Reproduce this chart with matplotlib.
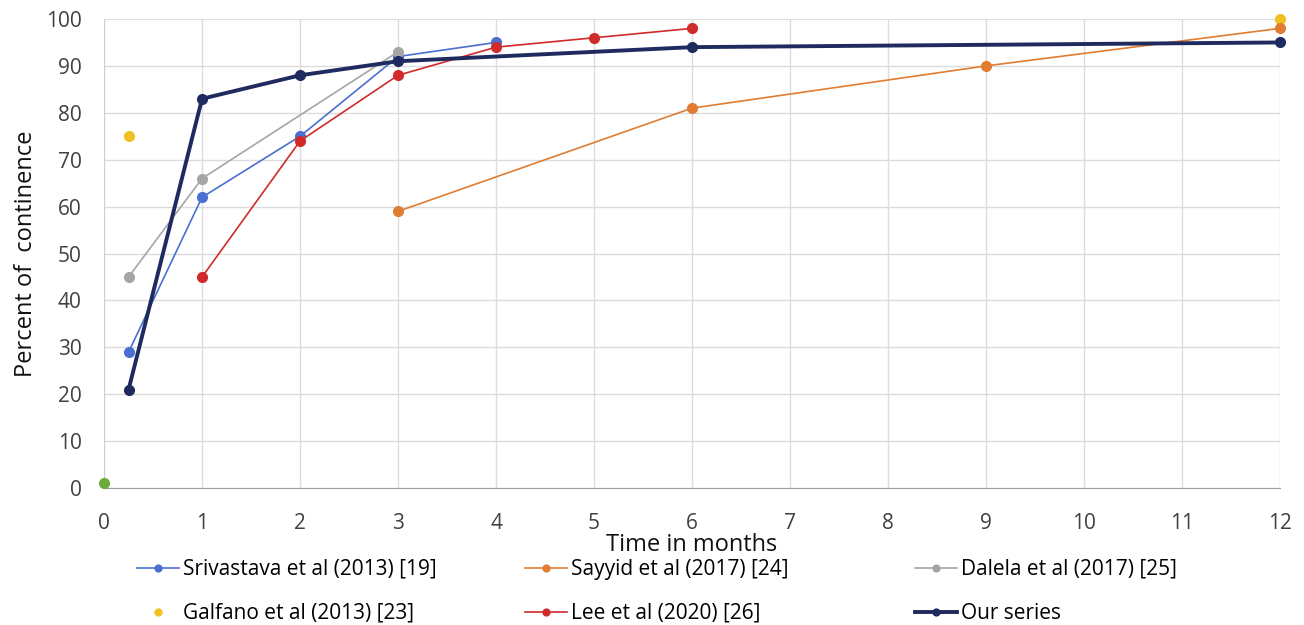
import numpy as np
import matplotlib
matplotlib.use("Agg")
import matplotlib.pyplot as plt

plt.rcParams['font.family'] = ['Open Sans', 'DejaVu Sans']

# data
sriv_x = [0.25, 1, 2, 3, 4]
sriv_y = [29, 62, 75, 92, 95]
sayyid_x = [3, 6, 9, 12]
sayyid_y = [59, 81, 90, 98]
dalela_x = [0.25, 1, 3]
dalela_y = [45, 66, 93]
galfano_x = [0.25, 12]
galfano_y = [75, 100]
lee_x = [1, 2, 3, 4, 5, 6]
lee_y = [45, 74, 88, 94, 96, 98]
ours_x = [0.25, 1, 2, 3, 6, 12]
ours_y = [21, 83, 88, 91, 94, 95]
baseline_x = [0]
baseline_y = [1]

x_ticks = list(range(0, 13))
y_ticks = list(range(0, 101, 10))

fig = plt.figure(figsize=(13.04, 6.25), dpi=100)
ax = fig.add_axes([0.0798, 0.219, 0.9018, 0.7506])

h_sriv, = ax.plot(sriv_x, sriv_y, color='#4a6fd1', lw=1.2, marker='o', ms=7,
                  label='Srivastava et al (2013) [19]', zorder=3, clip_on=False)
h_say, = ax.plot(sayyid_x, sayyid_y, color='#e07d32', lw=1.2, marker='o', ms=7,
                 label='Sayyid et al (2017) [24]', zorder=3, clip_on=False)
h_dal, = ax.plot(dalela_x, dalela_y, color='#a5a5a5', lw=1.2, marker='o', ms=7,
                 label='Dalela et al (2017) [25]', zorder=3, clip_on=False)
h_gal, = ax.plot(galfano_x, galfano_y, color='#f0c020', lw=0, marker='o', ms=7,
                 label='Galfano et al (2013) [23]', zorder=2, clip_on=False)
h_lee, = ax.plot(lee_x, lee_y, color='#d02a2a', lw=1.2, marker='o', ms=7,
                 label='Lee et al (2020) [26]', zorder=4, clip_on=False)
h_our, = ax.plot(ours_x, ours_y, color='#1f2a5e', lw=2.8, marker='o', ms=7,
                 label='Our series', zorder=5, clip_on=False)
ax.plot(baseline_x, baseline_y, color='#6aab3c', lw=0, marker='o', ms=7,
        zorder=6, clip_on=False)

ax.set_xlim(0, 12)
ax.set_ylim(0, 100)
ax.set_xticks(x_ticks)
ax.set_yticks(y_ticks)
ax.grid(True, color='#dcdcdc', lw=1)
ax.set_axisbelow(True)
for s in ['top', 'right']:
    ax.spines[s].set_visible(False)
ax.spines['left'].set_color('#d0d0d0')
ax.spines['bottom'].set_color('#a0a0a0')
ax.tick_params(length=0, labelsize=15, colors='#404040')
ax.tick_params(axis='x', pad=18)
ax.tick_params(axis='y', pad=16)

ax.set_xlabel('Time in months', fontsize=17, labelpad=-1, color='#111111')
ax.set_ylabel('Percent of  continence', fontsize=17, labelpad=6, color='#111111')

# legend laid out as three columns of two rows
columns = [(h_sriv, h_gal), (h_say, h_lee), (h_dal, h_our)]
col_left = [137, 525, 915]
for hs, px in zip(columns, col_left):
    leg = fig.legend(handles=list(hs), labels=[h.get_label() for h in hs],
                     loc='upper left', bbox_to_anchor=(px / 1304, 1 - 559 / 625),
                     frameon=False, fontsize=15, handlelength=2.0,
                     handletextpad=0.2, labelspacing=1.1, markerscale=0.7,
                     borderpad=0, borderaxespad=0)

fig.savefig('out.png', dpi=100)
